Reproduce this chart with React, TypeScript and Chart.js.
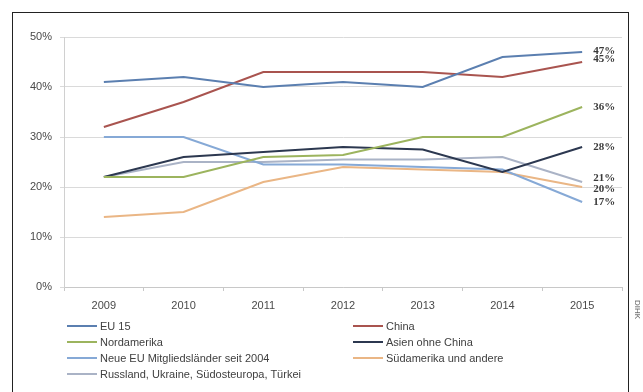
import React, { useEffect, useRef } from "react";
import { Chart, registerables } from "chart.js";

Chart.register(...registerables);

const years = ["2009", "2010", "2011", "2012", "2013", "2014", "2015"];
const yTicks = [0, 10, 20, 30, 40, 50];

const eu15 = [41, 42, 40, 41, 40, 46, 47];
const china = [32, 37, 43, 43, 43, 42, 45];
const nordamerika = [22, 22, 26, 26.4, 30, 30, 36];
const asienOhneChina = [22, 26, 27, 28, 27.5, 23, 28];
const neueEU = [30, 30, 24.5, 24.5, 24, 23.5, 17];
const suedamerika = [14, 15, 21, 24, 23.5, 23, 20];
const russland = [22, 25, 25, 25.5, 25.5, 26, 21];

const seriesNames = [
  "EU 15",
  "China",
  "Nordamerika",
  "Asien ohne China",
  "Neue EU Mitgliedsländer seit 2004",
  "Südamerika und andere",
  "Russland, Ukraine, Südosteuropa, Türkei",
];
const seriesData = [eu15, china, nordamerika, asienOhneChina, neueEU, suedamerika, russland];
const seriesColors = ["#5b7fb0", "#a9544f", "#9cb45e", "#2c3850", "#86a9d6", "#eab685", "#aab3c6"];
const endLabels = ["47%", "45%", "36%", "28%", "21%", "20%", "17%"];
const endLabelSeries = [0, 1, 2, 3, 6, 5, 4];
const endLabelNudge = [-1, -3, 0, 0, -4, 2, 0];

const FONT = "'Liberation Sans', Arial, sans-serif";

const endLabelPlugin = {
  id: "endLabels",
  afterDatasetsDraw(chart: any) {
    const ctx = chart.ctx;
    ctx.save();
    ctx.font = "bold 11px 'Liberation Serif', serif";
    ctx.fillStyle = "#3a3a3a";
    ctx.textAlign = "left";
    ctx.textBaseline = "middle";
    endLabels.forEach((txt, i) => {
      const di = endLabelSeries[i];
      const meta = chart.getDatasetMeta(di);
      const pt = meta.data[meta.data.length - 1];
      if (!pt) return;
      ctx.fillText(txt, pt.x + 11, pt.y + endLabelNudge[i]);
    });
    ctx.restore();
  },
};

function ChartCanvas() {
  const ref = useRef<HTMLCanvasElement>(null);
  useEffect(() => {
    if (!ref.current) return;
    const chart = new Chart(ref.current, {
      type: "line",
      data: {
        labels: years,
        datasets: seriesNames.map((n, i) => ({
          label: n,
          data: seriesData[i],
          borderColor: seriesColors[i],
          backgroundColor: seriesColors[i],
          borderWidth: 2,
          pointRadius: 0,
          tension: 0,
          fill: false,
        })),
      },
      options: {
        animation: false,
        responsive: false,
        devicePixelRatio: 1,
        layout: { padding: { left: 0, top: 37, right: 21, bottom: 0 } },
        plugins: { legend: { display: false }, tooltip: { enabled: false } },
        scales: {
          x: {
            offset: true,
            grid: { display: true, drawOnChartArea: false, drawTicks: true, tickLength: 4, color: "#c8c8c8", offset: true },
            border: { display: true, color: "#c8c8c8" },
            ticks: { color: "#4a4a4a", font: { family: FONT, size: 11 }, padding: 8, maxRotation: 0 },
            afterFit: (s: any) => { s.height = 105; },
          },
          y: {
            min: 0,
            max: 50,
            afterBuildTicks: (s: any) => { s.ticks = yTicks.map((v) => ({ value: v })); },
            grid: { color: "#dadada", tickLength: 4, drawTicks: true },
            border: { display: true, color: "#d0d0d0" },
            ticks: { color: "#4a4a4a", font: { family: FONT, size: 11 }, padding: 8, callback: (v: any) => v + "%" },
            afterFit: (s: any) => { s.width = 64; },
          },
        },
      },
      plugins: [endLabelPlugin],
    });
    return () => chart.destroy();
  }, []);
  return <canvas ref={ref} width={643} height={392} style={{ position: "absolute", left: 0, top: 0, width: 643, height: 392 }} />;
}

function Legend() {
  const rows = [
    [0, 1],
    [2, 3],
    [4, 5],
    [6, -1],
  ];
  const colX = [67, 353];
  return (
    <>
      {rows.map((r, ri) =>
        r.map((si, ci) =>
          si < 0 ? null : (
            <div
              key={ri + "-" + ci}
              style={{
                position: "absolute",
                left: colX[ci],
                top: 326 + ri * 16 - 8,
                height: 16,
                display: "flex",
                alignItems: "center",
                whiteSpace: "nowrap",
                font: "11px " + FONT,
                color: "#404040",
              }}
            >
              <span style={{ display: "inline-block", width: 30, height: 2, background: seriesColors[si], marginRight: 3 }} />
              <span>{seriesNames[si]}</span>
            </div>
          )
        )
      )}
    </>
  );
}

export default function App() {
  return (
    <div style={{ position: "fixed", left: 0, top: 0, width: 643, height: 392, background: "#fff", overflow: "hidden" }}>
      <div style={{ position: "absolute", left: 12, top: 12, width: 617, height: 400, border: "1px solid #222", boxSizing: "border-box" }} />
      <ChartCanvas />
      <Legend />
      <div
        style={{
          position: "absolute",
          left: 633,
          top: 300,
          transform: "rotate(90deg)",
          transformOrigin: "left top",
          font: "8px " + FONT,
          color: "#555",
          whiteSpace: "nowrap",
          marginLeft: 9,
        }}
      >
        DIHK
      </div>
    </div>
  );
}
